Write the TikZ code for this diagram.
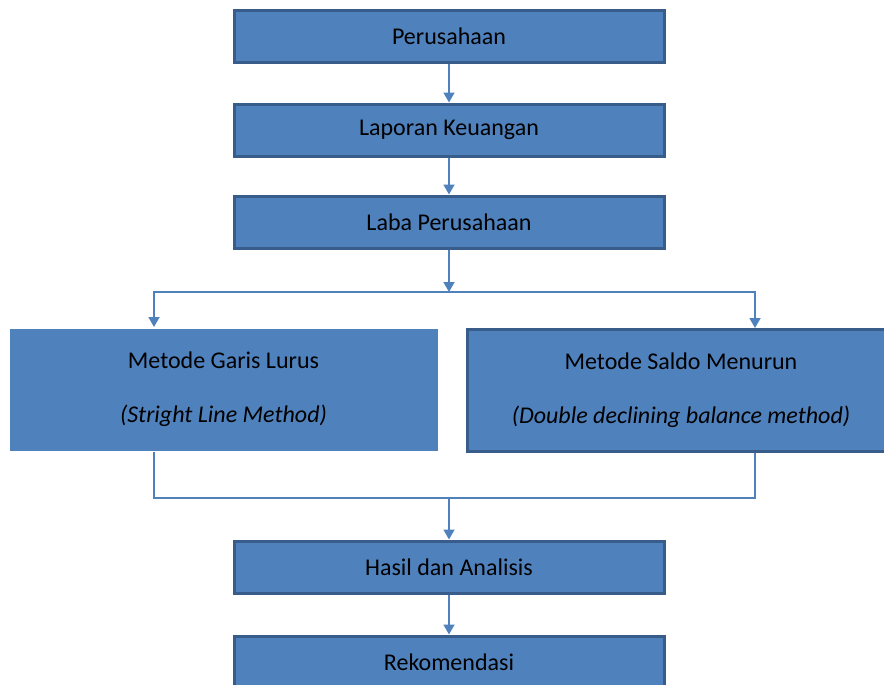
\documentclass[tikz,border=0pt]{standalone}
\usepackage{fontspec}
\setmainfont{Carlito}
\usetikzlibrary{arrows.meta,calc}

\definecolor{boxfill}{RGB}{79,129,189}
\definecolor{boxline}{RGB}{56,93,138}

\tikzset{
	box/.style={rectangle, fill=boxfill, draw=boxline, line width=1.5pt,
		minimum width=215pt, minimum height=26pt, inner sep=0pt,
		font=\fontsize{12}{14.4}\selectfont},
	bigbox/.style={box, minimum width=214pt, minimum height=61pt, align=center},
	link/.style={draw=boxfill, line width=0.9pt},
	arrow/.style={link, -{Triangle[length=5pt,width=5.5pt]}}
}

\begin{document}
\begin{tikzpicture}[x=0.5pt, y=-0.5pt]
		\useasboundingbox (0,0) rectangle (884,685);

		\node [box]	(perusahaan)	at (449,36)	{Perusahaan};
		\node [box]	(laporan)	at (449,130)	{Laporan Keuangan};
		\node [box]	(laba)	at (449,222)	{Laba Perusahaan};

		\node [bigbox, draw=none]	(garis)	at (223.5,389.5)	{Metode Garis Lurus\\[12.5pt]\textit{(Stright Line Method)}};
		\node [bigbox]	(saldo)	at (681,390.5)	{Metode Saldo Menurun\\[12.5pt]\textit{(Double declining balance method)}};

		\node [box]	(hasil)	at (449,567)	{Hasil dan Analisis};
		\node [box]	(rekomendasi)	at (449,662)	{Rekomendasi};

		\coordinate (split)	at (449,292);
		\coordinate (merge)	at (449,498);

		\draw [arrow]	(perusahaan) -- (laporan);
		\draw [arrow]	(laporan) -- (laba);
		\draw [arrow]	(laba) -- (split);
		\draw [arrow]	(split) -| ($(garis.north)+(-69.5,0)$);
		\draw [arrow]	(split) -| ($(saldo.north)+(74,0)$);

		\draw [link]	($(garis.south)+(-69.5,0)$) |- (merge) -| ($(saldo.south)+(74,0)$);
		\draw [arrow]	(merge) -- (hasil);
		\draw [arrow]	(hasil) -- (rekomendasi);
	\end{tikzpicture}
\end{document}
